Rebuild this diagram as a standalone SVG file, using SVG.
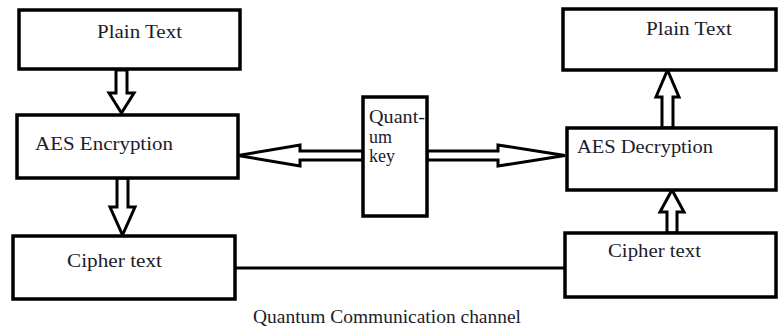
<svg xmlns="http://www.w3.org/2000/svg" width="778" height="329" viewBox="0 0 778 329" font-family="'Liberation Serif', 'DejaVu Serif', serif">
<style>
.box{fill:#fff;stroke:#000;stroke-width:3.5}
.arr{fill:#fff;stroke:#000;stroke-width:3;stroke-linejoin:miter}
.line{stroke:#000;stroke-width:3;fill:none}
.t{font-family:'Liberation Serif','Times New Roman',serif;font-size:18px;fill:#1c1c2a}
</style>
<rect width="778" height="329" fill="#fff"/>
<g id="connectors">
<polygon class="arr" points="116,70 127,70 127,93 134,93 121.5,113 109,93 116,93"/>
<polygon class="arr" points="117,178 128,178 128,207 135,207 122.5,235 110,207 117,207"/>
<polygon class="arr" points="662,128 673,128 673,97 679,97 667.5,70 656,97 662,97"/>
<polygon class="arr" points="667,233 677,233 677,212 684,212 672,190 660,212 667,212"/>
<polygon class="arr" points="363,151 300,151 300,145 238,155.5 300,166 300,160 363,160"/>
<polygon class="arr" points="427,151 498,151 498,145 565,155.5 498,166 498,160 427,160"/>
<line class="line" x1="235" y1="268" x2="565" y2="268"/>
<text class="t" x="253" y="323" textLength="268" lengthAdjust="spacingAndGlyphs">Quantum Communication channel</text>
</g>
<g id="plain-left">
<rect class="box" x="19" y="10" width="221" height="59"/>
<text class="t" x="97" y="38" textLength="85" lengthAdjust="spacingAndGlyphs">Plain Text</text>
</g>
<g id="aes-enc">
<rect class="box" x="17" y="115" width="221" height="63"/>
<text class="t" x="35" y="150" textLength="138" lengthAdjust="spacingAndGlyphs">AES Encryption</text>
</g>
<g id="cipher-left">
<rect class="box" x="13" y="236" width="222" height="63"/>
<text class="t" x="67" y="267" textLength="95" lengthAdjust="spacingAndGlyphs">Cipher text</text>
</g>
<g id="quantum-key">
<rect class="box" x="363" y="97" width="64" height="119"/>
<text class="t" x="369" y="123" textLength="56" lengthAdjust="spacingAndGlyphs">Quant-</text>
<text class="t" x="369" y="143">um</text>
<text class="t" x="369" y="162">key</text>
</g>
<g id="plain-right">
<rect class="box" x="563" y="9" width="213" height="61"/>
<text class="t" x="646" y="35" textLength="86" lengthAdjust="spacingAndGlyphs">Plain Text</text>
</g>
<g id="aes-dec">
<rect class="box" x="567" y="128" width="209" height="62"/>
<text class="t" x="577" y="153" textLength="136" lengthAdjust="spacingAndGlyphs">AES Decryption</text>
</g>
<g id="cipher-right">
<rect class="box" x="565" y="233" width="211" height="64"/>
<text class="t" x="608" y="257" textLength="93" lengthAdjust="spacingAndGlyphs">Cipher text</text>
</g>
</svg>
